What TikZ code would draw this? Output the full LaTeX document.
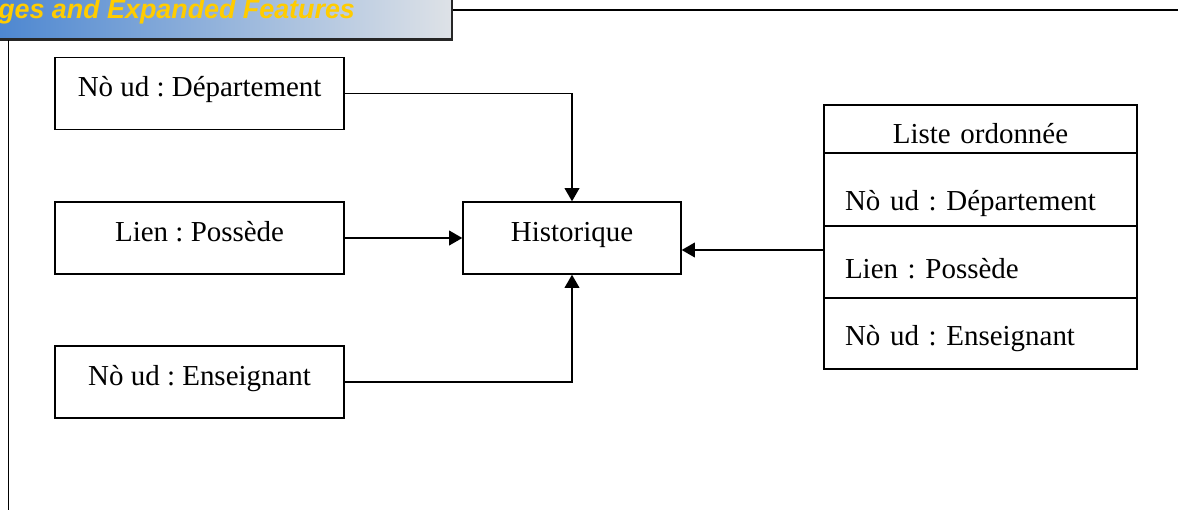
\documentclass[tikz,border=0pt]{standalone}
\usepackage{fontspec}
\setmainfont{Liberation Serif}
\newfontfamily\bannerfont{Liberation Sans}
\usetikzlibrary{arrows.meta,positioning}
\definecolor{bandblue}{RGB}{74,133,208}
\definecolor{bandgray}{RGB}{222,226,231}
\definecolor{bandgold}{RGB}{255,204,0}
\frenchspacing

\begin{document}
\begin{tikzpicture}[>={Triangle[length=0.33cm,width=0.37cm]},
  every node/.style={font=\fontsize{20.6}{24}\selectfont},
  box/.style={draw,line width=1pt,minimum width=7.225cm,minimum height=1.8cm,text height=0.5cm,text depth=0.35cm},
  row/.style={draw,line width=1pt,outer sep=0pt,text width=6.775cm,inner xsep=0.525cm,inner ysep=0pt,align=left},
  link/.style={->,line width=1pt}]
\useasboundingbox (0,0) rectangle (29.45,-12.75);
% bandeau en haut
\shade[left color=bandblue,right color=bandgray] (-0.3,0.3) rectangle (11.3,-0.98);
\draw[line width=0.07cm,black!85] (-0.3,-0.98) -- (11.3,-0.98) -- (11.3,0.3);
\node[anchor=base west,text=bandgold,font=\bannerfont\bfseries\itshape\fontsize{19.1}{22}\selectfont,inner sep=0pt] (titre) at (-0.05,-0.46) {ges and Expanded Features};
\draw[line width=1.4pt] (11.33,-0.25) -- (29.45,-0.25);
\draw[line width=1pt] (0.21,-1.0) -- (0.21,-12.75);

% elements
\node[box] (dept) at (4.99,-2.33) {Nò ud : Département};
\node[box] (lien) at (4.99,-5.95) {Lien : Possède};
\node[box] (ens) at (4.99,-9.55) {Nò ud : Enseignant};
\node[box,minimum width=5.45cm] (hist) at (14.3,-5.95) {Historique};

% liste ordonnee
\node[row,align=center,minimum height=1.2cm,text height=0.95cm,text depth=0.25cm,anchor=north west] (liste) at (20.6,-2.625) {Liste ordonnée};
\node[row,below=0pt of liste,minimum height=1.825cm,text height=1.3cm,text depth=0.275cm] (l1) {Nò ud : Département};
\node[row,below=0pt of l1,minimum height=1.8cm,text height=1.1cm,text depth=0.3cm] (l2) {Lien : Possède};
\node[row,below=0pt of l2,minimum height=1.775cm,text height=0.9cm,text depth=0.325cm] (l3) {Nò ud : Enseignant};

\draw[link] (dept.east) -| (hist.north);
\draw[link] (lien) -- (hist);
\draw[link] (ens.east) -| (hist.south);
\coordinate (entree) at ([yshift=-0.3cm]hist.east);
\draw[link] (l2.west |- entree) -- (entree);
\end{tikzpicture}
\end{document}
